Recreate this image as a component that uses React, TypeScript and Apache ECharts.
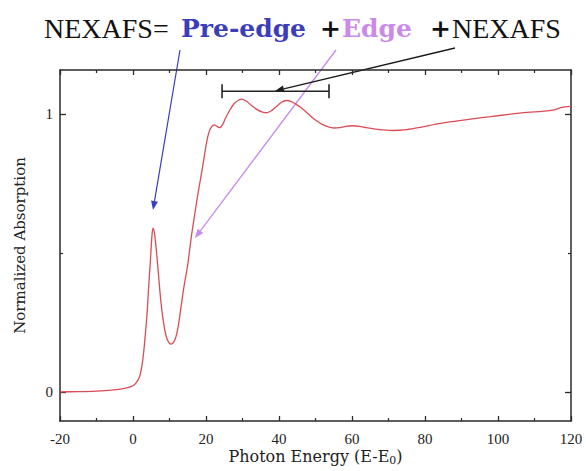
import React, { useEffect, useRef } from "react";
import * as echarts from "echarts";

// Photon energy (E - E0) and normalized absorption
const energy = [
  -20, -15, -10, -6, -3, -1, 0, 1, 1.8, 2.4, 2.9, 3.4, 3.9, 4.2, 4.8, 5.2, 5.5, 5.9, 6.4, 7.0, 7.6,
  8.3, 9.0, 9.7, 10.4, 11.1, 11.8, 12.5, 13.3, 14.1, 14.9, 15.5, 16.1, 16.8, 17.5, 18.4, 19.3, 20.1,
  20.8, 21.5, 22.2, 23.0, 23.8, 24.5, 25.3, 26.5, 27.8, 29.0, 29.8, 31, 32.5, 34, 35.5, 36.6, 37.8,
  39.2, 40.6, 42, 43.2, 44.5, 46, 47.5, 49, 50.5, 52, 53.5, 55, 56.5, 58, 60, 62, 64, 67, 71, 75, 79,
  83, 88, 93, 98, 103, 108, 112, 115, 117.5, 120,
];
const absorption = [
  0.0, 0.001, 0.003, 0.006, 0.011, 0.017, 0.022, 0.035, 0.055, 0.09, 0.14, 0.21, 0.29, 0.36, 0.48,
  0.565, 0.59, 0.57, 0.51, 0.42, 0.33, 0.255, 0.205, 0.18, 0.172, 0.178, 0.2, 0.245, 0.32, 0.39, 0.45,
  0.51, 0.57, 0.63, 0.69, 0.76, 0.83, 0.895, 0.935, 0.955, 0.962, 0.957, 0.952, 0.962, 0.985, 1.015,
  1.04, 1.052, 1.055, 1.048, 1.032, 1.017, 1.008, 1.006, 1.012, 1.027, 1.043, 1.05, 1.047, 1.038,
  1.025, 1.008, 0.99, 0.975, 0.963, 0.955, 0.951, 0.952, 0.956, 0.959, 0.957, 0.952, 0.946, 0.942,
  0.945, 0.954, 0.965, 0.975, 0.984, 0.992, 1.0, 1.007, 1.011, 1.015, 1.025, 1.029,
];
const yTickValues = [0, 1];
const yMinorTickValues = [0.5];
const bracketRange = [24.4, 53.7];
const bracketLevel = 1.083;

const SERIF = "'Liberation Serif', 'Times New Roman', serif";
const WIDE_SERIF = "'DejaVu Serif', serif";
const AXIS = "#2a2a2a";

function arrowShapes(x1: number, y1: number, x2: number, y2: number, color: string, w: number) {
  const dx = x2 - x1;
  const dy = y2 - y1;
  const len = Math.hypot(dx, dy);
  const ux = dx / len;
  const uy = dy / len;
  const hl = 9;
  const hw = 3.5;
  const bx = x2 - ux * hl;
  const by = y2 - uy * hl;
  return [
    { type: "line", silent: true, shape: { x1, y1, x2: bx, y2: by }, style: { stroke: color, lineWidth: w } },
    {
      type: "polygon",
      silent: true,
      shape: { points: [[x2, y2], [bx - uy * hw, by + ux * hw], [bx + uy * hw, by - ux * hw]] },
      style: { fill: color },
    },
  ];
}

function titleText(x: number, text: string, font: string, size: number, bold: boolean, color: string) {
  return {
    type: "text",
    x,
    y: 28,
    silent: true,
    style: {
      text,
      fontFamily: font,
      fontSize: size,
      fontWeight: bold ? "bold" : "normal",
      fill: color,
      align: "left",
      verticalAlign: "middle",
    },
  };
}

export default function App() {
  const ref = useRef<HTMLDivElement>(null);
  useEffect(() => {
    if (!ref.current) return;
    const chart = echarts.init(ref.current, null, { renderer: "svg" });
    const lineData = energy.map((e, i) => [e, absorption[i]]);

    const xCommon = {
      type: "value",
      min: -20,
      max: 120,
      interval: 20,
      axisLine: { show: true, onZero: false, lineStyle: { color: AXIS, width: 1.5 } },
      axisTick: { show: true, inside: true, length: 5, lineStyle: { color: AXIS, width: 1.3 } },
      minorTick: { show: true, splitNumber: 2, length: 3, lineStyle: { color: AXIS, width: 1.2 } },
      splitLine: { show: false },
      minorSplitLine: { show: false },
    };
    const yCommon = {
      type: "value",
      min: -0.105,
      max: 1.16,
      splitLine: { show: false },
    };

    chart.setOption({
      animation: false,
      backgroundColor: "#ffffff",
      grid: { left: 60, right: 15, top: 70, bottom: 50, containLabel: false, outerBoundsMode: "none" },
      xAxis: [
        {
          ...xCommon,
          position: "bottom",
          axisLabel: { margin: 10, fontFamily: SERIF, fontSize: 15, color: "#222" },
          name: "Photon Energy (E-E{sub|0})",
          nameLocation: "middle",
          nameGap: 25,
          nameMoveOverlap: false,
          nameTextStyle: {
            fontFamily: WIDE_SERIF,
            fontSize: 16,
            lineHeight: 20,
            color: "#222",
            rich: {
              sub: { fontFamily: WIDE_SERIF, fontSize: 11, lineHeight: 8, color: "#222", verticalAlign: "bottom" },
            },
          },
        },
        { ...xCommon, position: "top", axisLabel: { show: false } },
      ],
      yAxis: [
        {
          ...yCommon,
          position: "left",
          axisLine: { show: true, onZero: false, lineStyle: { color: AXIS, width: 1.5 } },
          axisTick: { show: true, inside: true, length: 6, customValues: yTickValues, lineStyle: { color: AXIS, width: 1.3 } },
          axisLabel: { customValues: yTickValues, margin: 7, fontFamily: SERIF, fontSize: 15, color: "#222" },
          name: "Normalized Absorption",
          nameLocation: "middle",
          nameRotate: 90,
          nameGap: 33,
          nameMoveOverlap: false,
          nameTextStyle: { fontFamily: WIDE_SERIF, fontSize: 15, color: "#222" },
        },
        {
          ...yCommon,
          position: "right",
          axisLine: { show: true, onZero: false, lineStyle: { color: AXIS, width: 1.5 } },
          axisTick: { show: true, inside: true, length: 6, customValues: yTickValues, lineStyle: { color: AXIS, width: 1.3 } },
          axisLabel: { show: false },
        },
        {
          ...yCommon,
          position: "left",
          axisLine: { show: false, onZero: false },
          axisTick: { show: true, inside: true, length: 3, customValues: yMinorTickValues, lineStyle: { color: AXIS, width: 1.2 } },
          axisLabel: { show: false },
        },
        {
          ...yCommon,
          position: "right",
          axisLine: { show: false, onZero: false },
          axisTick: { show: true, inside: true, length: 3, customValues: yMinorTickValues, lineStyle: { color: AXIS, width: 1.2 } },
          axisLabel: { show: false },
        },
      ],
      series: [
        {
          type: "line",
          xAxisIndex: 0,
          yAxisIndex: 0,
          data: lineData,
          showSymbol: false,
          smooth: 0.3,
          lineStyle: { color: "#db4c55", width: 1.3 },
          z: 2,
        },
        {
          type: "line",
          xAxisIndex: 0,
          yAxisIndex: 0,
          data: bracketRange.map((e) => [e, bracketLevel]),
          symbol: "rect",
          symbolSize: [1.6, 14],
          showSymbol: true,
          showAllSymbol: true,
          itemStyle: { color: "#222" },
          lineStyle: { color: "#222", width: 1.5 },
          z: 3,
        },
      ],
      graphic: [
        titleText(44, "NEXAFS=", SERIF, 28, false, "#111"),
        titleText(181, "Pre-edge", WIDE_SERIF, 25, true, "#3b3dbb"),
        titleText(320, "+", WIDE_SERIF, 25, true, "#111"),
        titleText(342, "Edge", WIDE_SERIF, 25, true, "#c98ae8"),
        titleText(430, "+", WIDE_SERIF, 25, true, "#111"),
        titleText(452, "NEXAFS", SERIF, 28, false, "#111"),
        ...arrowShapes(180, 50, 153, 210, "#3a3dbf", 1.2),
        ...arrowShapes(336, 50, 195, 238, "#c689ef", 1.3),
        ...arrowShapes(455, 48, 275, 91, "#1a1a1a", 1.3),
      ],
    });
    return () => chart.dispose();
  }, []);
  return (
    <div
      ref={ref}
      style={{ position: "fixed", left: 0, top: 0, width: 586, height: 471, background: "#fff" }}
    />
  );
}
